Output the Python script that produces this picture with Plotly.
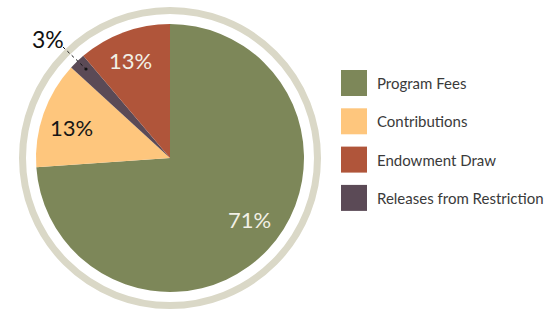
import plotly.graph_objects as go

W, H = 546, 309

# Data (slice order clockwise from 12 o'clock, as drawn)
slice_labels = ["Program Fees", "Contributions", "Releases from Restriction", "Endowment Draw"]
slice_values = [73.9, 12.9, 2.0, 11.2]          # angular shares
slice_text = ["71%", "13%", "3%", "13%"]         # printed labels
slice_colors = ["#7d8759", "#fec67d", "#5b4a56", "#b0553a"]

# Legend (order as printed)
legend_labels = ["Program Fees", "Contributions", "Endowment Draw", "Releases from Restriction"]
legend_colors = ["#7d8759", "#fec67d", "#b0553a", "#5b4a56"]

FONT = "Lato"

cx, cy, R = 170, 158, 134


def px(x):
    return x / W


def py(y):
    return 1 - y / H


fig = go.Figure()
fig.add_trace(go.Pie(
    labels=slice_labels,
    values=slice_values,
    sort=False,
    direction="clockwise",
    rotation=0,
    textinfo="none",
    hoverinfo="label+percent",
    marker=dict(colors=slice_colors, line=dict(width=0)),
    domain=dict(x=[px(cx - R), px(cx + R)], y=[py(cy + R), py(cy - R)]),
    showlegend=False,
))

shapes = []
# outer ring
shapes.append(dict(type="circle", xref="paper", yref="paper", xsizemode="pixel", ysizemode="pixel",
                   xanchor=px(cx), yanchor=py(cy), x0=-147.5, x1=147.5, y0=-147.5, y1=147.5,
                   line=dict(color="#dad8c7", width=7), fillcolor="rgba(0,0,0,0)", layer="below"))
# leader line for small slice
shapes.append(dict(type="line", xref="paper", yref="paper", x0=px(63), y0=py(47), x1=px(86), y1=py(69),
                   line=dict(color="#111111", width=1, dash="dot")))
shapes.append(dict(type="circle", xref="paper", yref="paper", xsizemode="pixel", ysizemode="pixel",
                   xanchor=px(86), yanchor=py(69), x0=-1.6, x1=1.6, y0=-1.6, y1=1.6,
                   line=dict(width=0), fillcolor="#111111"))

annotations = []
label_pos = [(249, 219, "#f2f0e6", 22), (71, 127, "#161616", 22), (48, 39, "#111111", 23), (130, 60, "#f2f0e6", 22)]
for (x, y, c, s), t in zip(label_pos, slice_text):
    annotations.append(dict(x=px(x), y=py(y), xref="paper", yref="paper", text=t, showarrow=False,
                            font=dict(family=FONT, size=s, color=c), xanchor="center", yanchor="middle"))

# manual legend
for i, (lab, col) in enumerate(zip(legend_labels, legend_colors)):
    top = 70 + i * 38.3
    shapes.append(dict(type="rect", xref="paper", yref="paper", x0=px(341), x1=px(367),
                       y0=py(top + 26), y1=py(top), line=dict(width=0), fillcolor=col))
    annotations.append(dict(x=px(375), y=py(top + 13), xref="paper", yref="paper", text=lab,
                            showarrow=False, xanchor="left", yanchor="middle",
                            font=dict(family=FONT, size=15, color="#3a3a3a")))

fig.update_layout(
    width=W, height=H, autosize=False,
    margin=dict(l=0, r=0, t=0, b=0),
    paper_bgcolor="white", plot_bgcolor="white",
    shapes=shapes, annotations=annotations,
    showlegend=False,
)

fig.write_html("out.html", config={"displayModeBar": False},
               post_script="document.body.style.margin='0';")
